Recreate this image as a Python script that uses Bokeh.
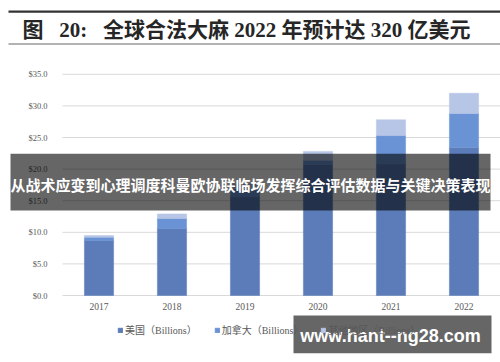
from bokeh.plotting import figure
from bokeh.models import (Range1d, FixedTicker, NumeralTickFormatter, BoxAnnotation,
                          Label, Legend, LegendItem, ColumnDataSource, LinearAxis)
from bokeh.embed import file_html
from bokeh.resources import INLINE

# ---- data ----
years = ["2017", "2018", "2019", "2020", "2021", "2022"]
usa = [8.7, 10.6, 15.6, 20.7, 20.8, 23.4]
canada = [0.5, 1.6, 1.3, 0.7, 4.5, 5.4]
other = [0.3, 0.7, 0.8, 1.4, 2.5, 3.2]
series_names = ["美国（Billions）", "加拿大（Billions）", "其他地区（Billions）"]
y_ticks = [0, 5, 10, 15, 20, 25, 30, 35]

NB = "\u00a0"
title_text = "图" + NB * 3 + "20:" + NB * 3 + "全球合法大麻 2022 年预计达 320 亿美元"
banner_text = "从战术应变到心理调度科曼欧协联临场发挥综合评估数据与关键决策表现"
watermark_text = "www.hant--ng28.com"

colors = ["#5b7cb8", "#6a93d6", "#b7c5e6"]
SERIF = "Liberation Serif, Noto Sans CJK SC"

W, H = 500, 362
PX_PER_CAT = 73.0
PX_PER_UNIT = 6.32
X0_PX, Y0_PX = 98.5, 295.0   # pixel position of first category / value 0

source = ColumnDataSource(dict(x=list(range(len(years))), usa=usa, canada=canada, other=other))

p = figure(width=W, height=H, output_backend="svg", toolbar_location=None,
           x_range=Range1d(-X0_PX / PX_PER_CAT, (W - X0_PX) / PX_PER_CAT),
           y_range=Range1d(-(H - Y0_PX) / PX_PER_UNIT, Y0_PX / PX_PER_UNIT),
           min_border_left=0, min_border_right=0, min_border_top=0, min_border_bottom=0,
           x_axis_type=None, y_axis_type=None)
p.outline_line_color = None
p.background_fill_color = "white"
p.border_fill_color = "white"
p.xgrid.visible = False
p.ygrid.visible = False

# horizontal grid lines across the plotting area
p.segment(x0=-0.5, x1=(W - X0_PX) / PX_PER_CAT, y0=y_ticks, y1=y_ticks,
          line_color="#d9d9d9", line_width=1, level="underlay")

rs = p.vbar_stack(["usa", "canada", "other"], x="x", width=0.40, source=source,
                  color=colors, line_color=colors, line_width=0.5)

# axes drawn at fixed locations inside the canvas
xaxis = LinearAxis(fixed_location=0, ticker=FixedTicker(ticks=list(range(len(years)))),
                   major_label_overrides={i: y for i, y in enumerate(years)})
yaxis = LinearAxis(fixed_location=-0.5, ticker=FixedTicker(ticks=y_ticks),
                   formatter=NumeralTickFormatter(format="$0.0"))
for ax in (xaxis, yaxis):
    ax.axis_line_color = None
    ax.major_tick_line_color = None
    ax.minor_tick_line_color = None
    ax.major_tick_out = 0
    ax.major_tick_in = 0
    ax.major_label_text_font = SERIF
    ax.major_label_text_color = "#595959"
yaxis.major_label_text_font_size = "8.5px"
yaxis.major_label_standoff = 15
xaxis.major_label_text_font_size = "9.5px"
xaxis.major_label_standoff = 7
p.add_layout(xaxis, "below")
p.add_layout(yaxis, "left")

# legend below the plot
legend = Legend(items=[LegendItem(label=n, renderers=[r]) for n, r in zip(series_names, rs)],
                orientation="horizontal", location=(117, 25))
legend.padding = 0
legend.margin = 0
legend.spacing = 17
legend.border_line_color = None
legend.background_fill_alpha = 0
legend.glyph_width = 6
legend.glyph_height = 6
legend.label_standoff = 2
legend.label_height = 10
legend.label_text_font = SERIF
legend.label_text_font_size = "10px"
legend.label_text_color = "#595959"
p.add_layout(legend, "center")


def canvas_box(l, r, t, b, color, alpha):
    return BoxAnnotation(left=l, right=r, top=t, bottom=b, left_units="canvas", right_units="canvas",
                         top_units="canvas", bottom_units="canvas", fill_color=color, fill_alpha=alpha,
                         line_color=None, level="overlay")


# title and rules
p.add_layout(canvas_box(8, 500, 10, 12.3, "#333333", 1))
p.add_layout(canvas_box(8, 500, 42.7, 44.2, "#999999", 1))
p.add_layout(Label(x=22, y=29, x_units="canvas", y_units="canvas", text=title_text,
                   text_font=SERIF, text_font_size="21px", text_font_style="bold",
                   text_color="#262626", text_baseline="middle", text_align="left", level="overlay"))

# banner overlay
p.add_layout(canvas_box(10, 490, 153.3, 210, "black", 0.6))
p.add_layout(Label(x=250, y=183.5, x_units="canvas", y_units="canvas", text=banner_text,
                   text_font="Noto Sans CJK SC", text_font_size="15px", text_font_style="bold",
                   text_color="white", text_baseline="middle", text_align="center", level="overlay"))

# watermark
p.add_layout(canvas_box(293, 491, 315, 352.7, "black", 0.6))
p.add_layout(Label(x=390, y=335, x_units="canvas", y_units="canvas", text=watermark_text,
                   text_font="Liberation Sans", text_font_size="18px", text_font_style="bold",
                   text_color="white", text_baseline="middle", text_align="center", level="overlay"))

open("out.html", "w").write(file_html(p, INLINE))
